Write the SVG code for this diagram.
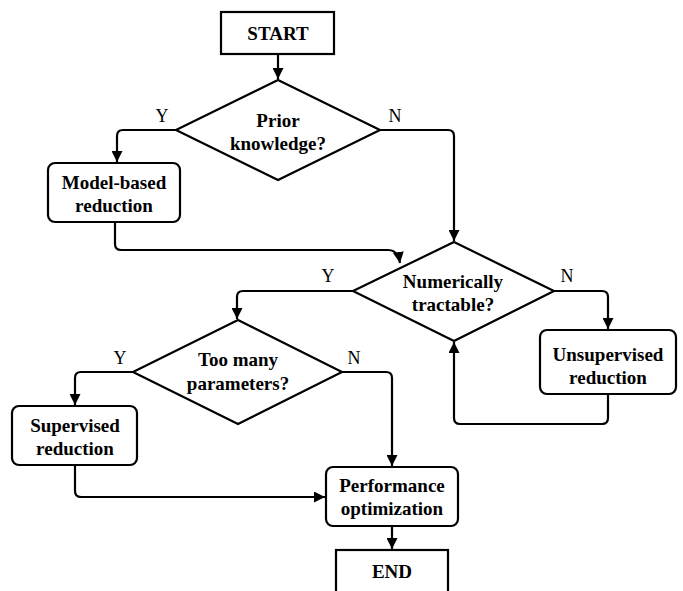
<svg xmlns="http://www.w3.org/2000/svg" width="683" height="591" viewBox="0 0 683 591">
<style>
.s{fill:#fff;stroke:#000;stroke-width:2.2}
.t{font-family:"Liberation Serif","Times New Roman",serif;font-weight:bold;font-size:19px;text-anchor:middle;fill:#000}
.l{font-family:"Liberation Serif","Times New Roman",serif;font-size:18px;text-anchor:middle;fill:#000}
.c{fill:none;stroke:#000;stroke-width:2.2;marker-end:url(#a)}
</style>
<defs>
<marker id="a" viewBox="0 0 10 10" refX="10" refY="5" markerWidth="5" markerHeight="5" markerUnits="strokeWidth" orient="auto">
<path d="M0,0 L10,5 L0,10 z" fill="#000"/>
</marker>
</defs>
<rect width="683" height="591" fill="#fff"/>
<g id="connectors">
<path class="c" d="M278,54 V79"/>
<path class="c" d="M176,130 H123 Q117,130 117,136 V162"/>
<path class="c" d="M380,130 H448 Q454,130 454,136 V241"/>
<path class="c" d="M115,222 V244 Q115,250 121,250 H388 Q398,250 400,263"/>
<path class="c" d="M353,291 H243 Q237,291 237,297 V319"/>
<path class="c" d="M554,291 H602 Q608,291 608,297 V329"/>
<path class="c" d="M608,394 V418 Q608,424 602,424 H460 Q454,424 454,418 V342"/>
<path class="c" d="M133,372 H81 Q75,372 75,378 V405"/>
<path class="c" d="M342,372 H386 Q392,372 392,378 V466"/>
<path class="c" d="M75,465 V491 Q75,497 81,497 H325"/>
<path class="c" d="M392,526 V549"/>
<text class="l" x="162" y="122">Y</text>
<text class="l" x="395" y="122">N</text>
<text class="l" x="328" y="282">Y</text>
<text class="l" x="567" y="282">N</text>
<text class="l" x="120" y="364">Y</text>
<text class="l" x="354" y="364">N</text>
</g>
<g id="start">
<rect class="s" x="221" y="12" width="113" height="42"/>
<text class="t" x="278" y="40">START</text>
</g>
<g id="prior">
<polygon class="s" points="278,80 380,130 278,180 176,130"/>
<text class="t" x="278" y="127">Prior</text>
<text class="t" x="278" y="150">knowledge?</text>
</g>
<g id="model">
<rect class="s" x="48" y="163" width="132" height="59" rx="7"/>
<text class="t" x="114" y="189">Model-based</text>
<text class="t" x="114" y="212">reduction</text>
</g>
<g id="numerically">
<polygon class="s" points="454,242 554,291 454,341 353,291"/>
<text class="t" x="453" y="288">Numerically</text>
<text class="t" x="453" y="311">tractable?</text>
</g>
<g id="unsupervised">
<rect class="s" x="540" y="330" width="136" height="64" rx="7"/>
<text class="t" x="608" y="361">Unsupervised</text>
<text class="t" x="608" y="384">reduction</text>
</g>
<g id="toomany">
<polygon class="s" points="238,320 342,372 238,424 133,372"/>
<text class="t" x="238" y="366">Too many</text>
<text class="t" x="238" y="390">parameters?</text>
</g>
<g id="supervised">
<rect class="s" x="12" y="406" width="125" height="59" rx="7"/>
<text class="t" x="75" y="432">Supervised</text>
<text class="t" x="75" y="455">reduction</text>
</g>
<g id="performance">
<rect class="s" x="326" y="467" width="132" height="59" rx="7"/>
<text class="t" x="392" y="492">Performance</text>
<text class="t" x="392" y="515">optimization</text>
</g>
<g id="end">
<rect class="s" x="336" y="550" width="112" height="45"/>
<text class="t" x="392" y="578">END</text>
</g>
</svg>
